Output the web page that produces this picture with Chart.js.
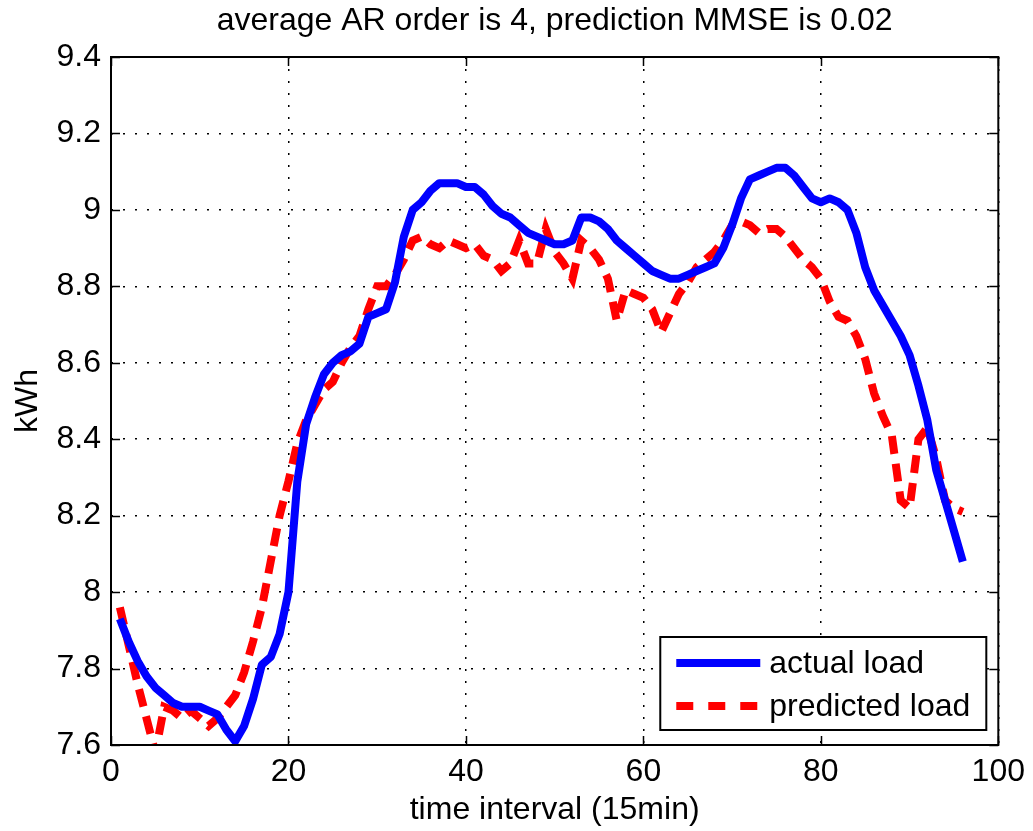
<!DOCTYPE html>
<html>
<head>
<meta charset="utf-8">
<script src="https://cdn.jsdelivr.net/npm/chart.js@4/dist/chart.umd.min.js"></script>
<style>
  html, body { margin: 0; padding: 0; background: #ffffff; }
  #wrap { width: 1033px; height: 831px; }
</style>
</head>
<body>
<div id="wrap"><canvas id="c" width="1033" height="831"></canvas></div>
<script>
const chartTitle = 'average AR order is 4, prediction MMSE is 0.02';
const xAxisTitle = 'time interval (15min)';
const yAxisTitle = 'kWh';
const seriesNames = ['actual load', 'predicted load'];

const intervals = Array.from({ length: 96 }, (_, i) => i + 1);

const actualLoad = [
  7.93, 7.87, 7.82, 7.78, 7.75, 7.73, 7.71, 7.70, 7.70, 7.70,
  7.69, 7.68, 7.64, 7.61, 7.65, 7.72, 7.81, 7.83, 7.89, 8.00,
  8.29, 8.44, 8.51, 8.57, 8.60, 8.62, 8.63, 8.65, 8.72, 8.73,
  8.74, 8.81, 8.93, 9.00, 9.02, 9.05, 9.07, 9.07, 9.07, 9.06,
  9.06, 9.04, 9.01, 8.99, 8.98, 8.96, 8.94, 8.93, 8.92, 8.91,
  8.91, 8.92, 8.98, 8.98, 8.97, 8.95, 8.92, 8.90, 8.88, 8.86,
  8.84, 8.83, 8.82, 8.82, 8.83, 8.84, 8.85, 8.86, 8.90, 8.96,
  9.03, 9.08, 9.09, 9.10, 9.11, 9.11, 9.09, 9.06, 9.03, 9.02,
  9.03, 9.02, 9.00, 8.94, 8.85, 8.79, 8.75, 8.71, 8.67, 8.62,
  8.54, 8.45, 8.32, 8.24, 8.16, 8.08
];

const predictedLoad = [
  7.96, 7.86, 7.76, 7.67, 7.58, 7.70, 7.69, 7.67, 7.69, 7.67,
  7.65, 7.67, 7.70, 7.73, 7.79, 7.87, 7.96, 8.08, 8.20, 8.29,
  8.39, 8.45, 8.49, 8.53, 8.55, 8.60, 8.64, 8.67, 8.74, 8.80,
  8.80, 8.83, 8.87, 8.92, 8.93, 8.91, 8.90, 8.92, 8.91, 8.90,
  8.91, 8.88, 8.87, 8.84, 8.86, 8.92, 8.86, 8.86, 8.95, 8.89,
  8.86, 8.82, 8.92, 8.90, 8.87, 8.82, 8.71, 8.79, 8.78, 8.77,
  8.74, 8.68, 8.73, 8.78, 8.81, 8.85, 8.87, 8.89, 8.92, 8.96,
  8.97, 8.96, 8.94, 8.95, 8.95, 8.93, 8.90, 8.87, 8.85, 8.82,
  8.76, 8.72, 8.71, 8.67, 8.61, 8.52, 8.46, 8.41, 8.24, 8.22,
  8.40, 8.43, 8.35, 8.24, 8.22, 8.21
];

const xTickValues = [0, 20, 40, 60, 80, 100];
const yTickValues = [7.6, 7.8, 8.0, 8.2, 8.4, 8.6, 8.8, 9.0, 9.2, 9.4];

const FONT_FAMILY = '"Liberation Sans", Arial, Helvetica, sans-serif';
const FONT_SIZE = 32;

const matlabPlugin = {
  id: 'matlabFrame',
  afterDraw(chart) {
    const ctx = chart.ctx;
    const a = chart.chartArea;
    const xs = chart.scales.x;
    const ys = chart.scales.y;
    ctx.save();
    // inward tick marks
    ctx.strokeStyle = '#000';
    ctx.lineWidth = 1.5;
    ctx.setLineDash([]);
    const tl = 9;
    ctx.beginPath();
    xs.ticks.forEach(t => {
      const px = Math.round(xs.getPixelForValue(t.value)) + 0.5;
      ctx.moveTo(px, a.bottom); ctx.lineTo(px, a.bottom - tl);
      ctx.moveTo(px, a.top); ctx.lineTo(px, a.top + tl);
    });
    ys.ticks.forEach(t => {
      const py = Math.round(ys.getPixelForValue(t.value)) + 0.5;
      ctx.moveTo(a.left, py); ctx.lineTo(a.left + tl, py);
      ctx.moveTo(a.right, py); ctx.lineTo(a.right - tl, py);
    });
    ctx.stroke();
    // frame
    ctx.lineWidth = 2;
    ctx.strokeRect(a.left, a.top, a.right - a.left, a.bottom - a.top);

    // legend (bottom-right, inside axes)
    ctx.font = FONT_SIZE + 'px ' + FONT_FAMILY;
    const ds = chart.data.datasets;
    let maxW = 0;
    ds.forEach(d => { maxW = Math.max(maxW, ctx.measureText(d.label).width); });
    const lineLen = 84, padL = 16, gap = 9, padR = 16;
    const boxW = padL + lineLen + gap + maxW + padR;
    const boxH = 93;
    const right = a.right - 12;
    const bottom = a.bottom - 15;
    const left = right - boxW;
    const top = bottom - boxH;
    ctx.fillStyle = '#fff';
    ctx.fillRect(left, top, boxW, boxH);
    ctx.strokeStyle = '#000';
    ctx.lineWidth = 2;
    ctx.strokeRect(left, top, boxW, boxH);
    const rows = [top + 26, top + 69];
    ds.forEach((d, i) => {
      const y = rows[i];
      ctx.beginPath();
      ctx.strokeStyle = d.borderColor;
      ctx.lineWidth = d.borderWidth;
      ctx.lineCap = 'butt';
      ctx.setLineDash(i === 1 ? [17, 15] : []);
      ctx.moveTo(left + padL, y);
      ctx.lineTo(left + padL + lineLen, y);
      ctx.stroke();
      ctx.setLineDash([]);
      ctx.fillStyle = '#000';
      ctx.textBaseline = 'middle';
      ctx.textAlign = 'left';
      ctx.fillText(d.label, left + padL + lineLen + gap, y + 1);
    });
    ctx.restore();
  }
};

const gridCommon = {
  color: '#000000',
  lineWidth: 1.5,
  drawTicks: false
};

new Chart(document.getElementById('c'), {
  type: 'line',
  data: {
    datasets: [
      {
        label: seriesNames[0],
        data: intervals.map((x, i) => ({ x: x, y: actualLoad[i] })),
        borderColor: '#0000ff',
        borderWidth: 8,
        pointRadius: 0,
        fill: false,
        tension: 0,
        borderJoinStyle: 'round',
        borderCapStyle: 'butt'
      },
      {
        label: seriesNames[1],
        data: intervals.map((x, i) => ({ x: x, y: predictedLoad[i] })),
        borderColor: '#ff0000',
        borderWidth: 8,
        borderDash: [18, 10],
        pointRadius: 0,
        fill: false,
        tension: 0,
        borderCapStyle: 'butt'
      }
    ]
  },
  options: {
    responsive: false,
    animation: false,
    devicePixelRatio: 1,
    layout: { padding: { left: 0, right: 33, top: 0, bottom: 0 } },
    plugins: {
      legend: { display: false },
      tooltip: { enabled: false },
      title: {
        display: true,
        text: chartTitle,
        fullSize: false,
        color: '#000',
        font: { family: FONT_FAMILY, size: FONT_SIZE, weight: 'normal' },
        padding: { top: 2, bottom: 16.6 }
      }
    },
    scales: {
      x: {
        type: 'linear',
        min: 0,
        max: 100,
        afterBuildTicks: s => { s.ticks = xTickValues.map(v => ({ value: v })); },
        afterFit: s => { s.height = 86; },
        grid: gridCommon,
        border: { display: false, dash: [2, 10] },
        ticks: {
          color: '#000',
          padding: 8,
          maxRotation: 0,
          font: { family: FONT_FAMILY, size: FONT_SIZE },
          callback: v => String(Number(Number(v).toFixed(1)))
        },
        title: {
          display: true,
          text: xAxisTitle,
          color: '#000',
          font: { family: FONT_FAMILY, size: FONT_SIZE },
          padding: { top: 0, bottom: 2 }
        }
      },
      y: {
        type: 'linear',
        min: 7.6,
        max: 9.4,
        afterBuildTicks: s => { s.ticks = yTickValues.map(v => ({ value: v })); },
        afterFit: s => { s.width = 111; },
        grid: gridCommon,
        border: { display: false, dash: [2, 10] },
        ticks: {
          color: '#000',
          padding: 10,
          font: { family: FONT_FAMILY, size: FONT_SIZE },
          callback: v => String(Number(Number(v).toFixed(1)))
        },
        title: {
          display: true,
          text: yAxisTitle,
          color: '#000',
          font: { family: FONT_FAMILY, size: FONT_SIZE },
          padding: { top: 9, bottom: 0 }
        }
      }
    }
  },
  plugins: [matlabPlugin]
});
</script>
</body>
</html>
